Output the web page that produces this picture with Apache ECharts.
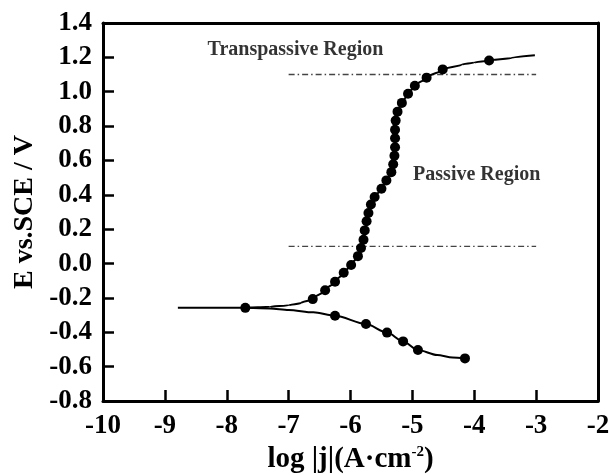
<!DOCTYPE html>
<html>
<head>
<meta charset="utf-8">
<script src="https://cdn.jsdelivr.net/npm/echarts@6/dist/echarts.min.js"></script>
<style>
  html, body { margin: 0; padding: 0; background: #fff; }
  #chart { width: 609px; height: 475px; }
</style>
</head>
<body>
<div id="chart"></div>
<script>
// Potentiodynamic polarization curve: E vs. SCE against log|j|.
// Each point: [log|j|, E, marked]; marked points carry a filled circle.
const anodicBranch = [
  [-8.79, -0.258, false],
  [-7.70, -0.258, true],
  [-7.30, -0.252, false],
  [-7.00, -0.243, false],
  [-6.80, -0.230, false],
  [-6.61, -0.207, true],
  [-6.41, -0.155, true],
  [-6.25, -0.106, true],
  [-6.11, -0.054, true],
  [-5.99, -0.008, true],
  [-5.88, 0.043, true],
  [-5.83, 0.090, true],
  [-5.79, 0.139, true],
  [-5.77, 0.193, true],
  [-5.74, 0.246, true],
  [-5.71, 0.294, true],
  [-5.67, 0.344, true],
  [-5.61, 0.387, true],
  [-5.50, 0.435, true],
  [-5.42, 0.484, true],
  [-5.34, 0.532, true],
  [-5.31, 0.578, true],
  [-5.29, 0.627, true],
  [-5.28, 0.677, true],
  [-5.28, 0.729, true],
  [-5.28, 0.779, true],
  [-5.27, 0.832, true],
  [-5.24, 0.884, true],
  [-5.17, 0.935, true],
  [-5.07, 0.988, true],
  [-4.96, 1.035, true],
  [-4.77, 1.082, true],
  [-4.51, 1.130, true],
  [-4.20, 1.158, false],
  [-4.00, 1.170, false],
  [-3.76, 1.182, true],
  [-3.40, 1.197, false],
  [-3.02, 1.213, false]
];

const cathodicBranch = [
  [-7.70, -0.258, false],
  [-7.30, -0.261, false],
  [-7.00, -0.270, false],
  [-6.60, -0.284, false],
  [-6.25, -0.304, true],
  [-5.75, -0.352, true],
  [-5.41, -0.402, true],
  [-5.15, -0.453, true],
  [-4.91, -0.503, true],
  [-4.60, -0.532, false],
  [-4.35, -0.547, false],
  [-4.15, -0.552, true]
];

// Region boundaries (dash-dot guides) and their log|j| extent
const regionLevels = [1.1, 0.1];
const regionSpan = [-7, -3];

// Axis ranges and ticks
const xRange = [-10, -2];
const xStep = 1;
const yRange = [-0.8, 1.4];
const yStep = 0.2;

const serif = "'Liberation Serif', 'Times New Roman', serif";

function toSeriesData(points) {
  return points.map(p => ({
    value: [p[0], p[1]],
    symbol: p[2] ? 'circle' : 'none'
  }));
}

const chart = echarts.init(document.getElementById('chart'), null, { renderer: 'canvas' });

const guideSeries = regionLevels.map(level => ({
  type: 'line',
  data: [[regionSpan[0], level], [regionSpan[1], level]],
  symbol: 'none',
  silent: true,
  lineStyle: { color: '#444', width: 1.4, type: [6, 3, 1.5, 3] },
  z: 1
}));

const frameLine = { show: true, onZero: false, lineStyle: { color: '#000', width: 3 } };

const option = {
  backgroundColor: '#fff',
  animation: false,
  grid: {
    left: 103, right: 11, top: 23, bottom: 74,
    containLabel: false, outerBoundsMode: 'none'
  },
  xAxis: [{
    type: 'value',
    position: 'bottom',
    min: xRange[0], max: xRange[1], interval: xStep,
    name: '{a|log |j|(A·cm}{s|-2}{a|)}',
    nameLocation: 'middle',
    nameGap: 40,
    nameTextStyle: {
      rich: {
        a: { fontFamily: serif, fontWeight: 'bold', fontSize: 29, color: '#000', lineHeight: 30 },
        s: { fontFamily: serif, fontWeight: 'bold', fontSize: 15, color: '#000', lineHeight: 15, verticalAlign: 'top' }
      }
    },
    axisLine: frameLine,
    axisTick: { inside: true, length: 11, lineStyle: { color: '#000', width: 2.5 } },
    axisLabel: {
      margin: 12, color: '#000', fontFamily: serif, fontWeight: 'bold', fontSize: 27,
      formatter: v => String(v)
    },
    splitLine: { show: false }
  }, {
    type: 'value',
    position: 'top',
    min: xRange[0], max: xRange[1],
    axisLine: frameLine,
    axisTick: { show: false },
    axisLabel: { show: false },
    splitLine: { show: false }
  }],
  yAxis: [{
    type: 'value',
    position: 'left',
    min: yRange[0], max: yRange[1], interval: yStep,
    name: 'E vs.SCE / V',
    nameLocation: 'middle',
    nameRotate: 90,
    nameGap: 62,
    nameTextStyle: { fontFamily: serif, fontWeight: 'bold', fontSize: 28, color: '#000' },
    axisLine: frameLine,
    axisTick: { inside: true, length: 11, lineStyle: { color: '#000', width: 2.5 } },
    axisLabel: {
      margin: 11, color: '#000', fontFamily: serif, fontWeight: 'bold', fontSize: 27,
      formatter: v => v.toFixed(1)
    },
    splitLine: { show: false }
  }, {
    type: 'value',
    position: 'right',
    min: yRange[0], max: yRange[1],
    axisLine: frameLine,
    axisTick: { show: false },
    axisLabel: { show: false },
    splitLine: { show: false }
  }],
  series: [
    ...guideSeries,
    {
      type: 'line',
      name: 'anodic',
      data: toSeriesData(anodicBranch),
      smooth: 0.3,
      smoothMonotone: 'y',
      symbolSize: 10,
      showSymbol: true,
      itemStyle: { color: '#000' },
      lineStyle: { color: '#000', width: 2 },
      z: 3
    },
    {
      type: 'line',
      name: 'cathodic',
      data: toSeriesData(cathodicBranch),
      smooth: 0.3,
      smoothMonotone: 'x',
      symbolSize: 10,
      showSymbol: true,
      itemStyle: { color: '#000' },
      lineStyle: { color: '#000', width: 2 },
      z: 3
    },
    {
      type: 'scatter',
      silent: true,
      symbolSize: 0,
      data: [
        { value: [-6.89, 1.245], name: 'Transpassive Region' },
        { value: [-3.96, 0.515], name: 'Passive Region' }
      ],
      label: {
        show: true, position: 'inside',
        formatter: p => p.name,
        fontFamily: serif, fontWeight: 'bold', fontSize: 20, color: '#000'
      },
      z: 4
    }
  ]
};

chart.setOption(option);
</script>
</body>
</html>
